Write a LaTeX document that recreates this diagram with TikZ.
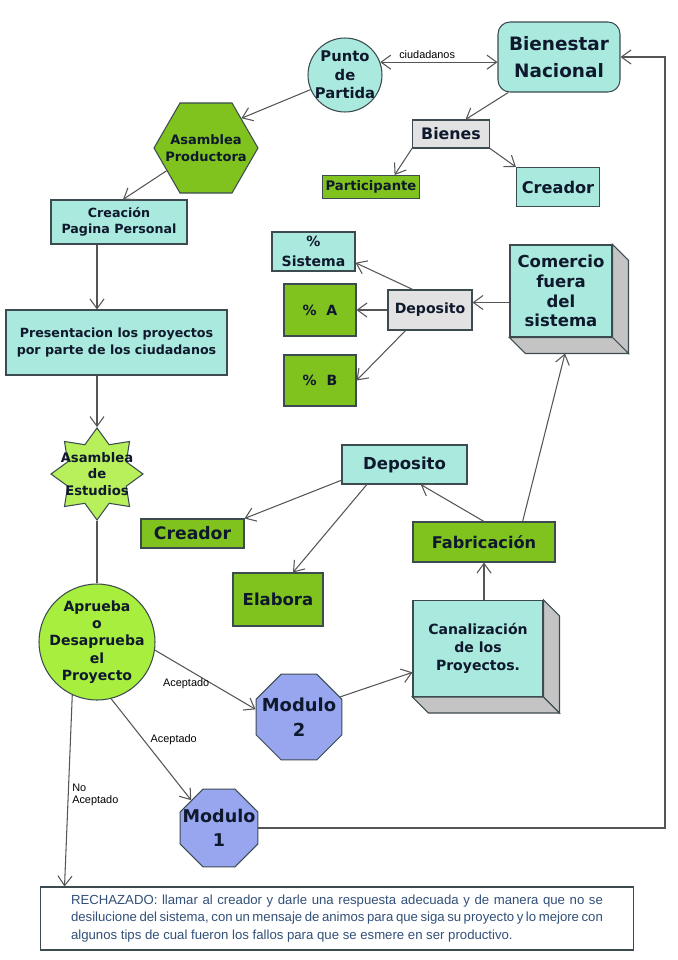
\documentclass[tikz,border=0pt]{standalone}
\usepackage{fontspec}
\setmainfont{DejaVu Sans}
\newfontfamily\lblfont{Liberation Sans}
\usepackage{tikz}
\usetikzlibrary{arrows.meta,positioning,shapes.geometric}
\usepackage{xcolor}
\definecolor{cyanfill} {RGB}{170,233,221}
\definecolor{greenfill}{RGB}{128,195, 30}
\definecolor{limefill} {RGB}{168,238, 62}
\definecolor{starfill} {RGB}{184,240, 92}
\definecolor{grayfill} {RGB}{226,226,226}
\definecolor{octafill} {RGB}{152,166,240}
\definecolor{sidefill} {RGB}{196,196,196}
\definecolor{edgecol}  {RGB}{ 60, 75, 80}
\definecolor{linecol}  {RGB}{ 85, 85, 85}
\definecolor{txtcol}   {RGB}{ 15, 25, 45}
\definecolor{rechcol}  {RGB}{ 50, 80,120}
\newcommand{\fsz}[2]{\fontsize{#1}{#2}\selectfont\bfseries}

\begin{document}
\begin{tikzpicture}[
  x=0.02cm, y=-0.02cm,
  every node/.style={font=\bfseries, text=txtcol, align=center, inner sep=1pt},
  box/.style={rectangle, draw=edgecol, line width=0.6pt},
  cyanbox/.style={box, fill=cyanfill},
  greenbox/.style={box, fill=greenfill},
  graybox/.style={box, fill=grayfill},
  octa/.style={regular polygon, regular polygon sides=8, draw=edgecol, fill=octafill, line width=0.6pt, inner sep=0pt},
  arrow/.style={-{Straight Barb[length=5.5pt, width=8pt]}, draw=linecol, line width=0.6pt},
  dblarrow/.style={{Straight Barb[length=5.5pt, width=8pt]}-{Straight Barb[length=5.5pt, width=8pt]}, draw=linecol, line width=0.6pt},
  link/.style={draw=linecol, line width=0.6pt},
  lbl/.style={font=\lblfont\fontsize{6.2}{7}\selectfont, text=black, align=left, inner sep=2pt},
  side/.style={fill=sidefill, draw=edgecol, line width=0.6pt}
]
  \useasboundingbox (0,0) rectangle (678,960);

  % Nodes, top part
  \node (punto) [circle, draw=edgecol, fill=cyanfill, line width=0.6pt, minimum size=1.48cm,
    label={[font=\fsz{8.4}{10.5}]center:{Punto\\de\\Partida}}] at (345,75) {};
  \node (bien) [cyanbox, rounded corners=0.24cm, minimum width=2.44cm, minimum height=1.4cm,
    font=\fsz{10.5}{15.5}] at (559,57) {Bienestar\\Nacional};
  \node (bienes) [graybox, minimum width=1.54cm, minimum height=0.56cm, font=\fsz{9}{11}] at (451,134) {Bienes};
  \node (part) [greenbox, minimum width=1.94cm, minimum height=0.46cm, font=\fsz{7.5}{9}] at (371,187) {Participante};
  \node (cre1) [cyanbox, minimum width=1.66cm, minimum height=0.78cm, font=\fsz{9.2}{11}] at (558,187) {Creador};
  \node (asprod) [regular polygon, regular polygon sides=6, draw=edgecol, fill=greenfill, line width=0.6pt,
    minimum size=2.08cm, inner sep=0pt,
    label={[font=\fsz{7.4}{9.6}]center:{Asamblea\\Productora}}] at (206,148) {};
  \node (creacion) [cyanbox, minimum width=2.72cm, minimum height=0.88cm, font=\fsz{7.2}{9.4}] at (119,222) {Creación\\Pagina Personal};
  \node (pres) [cyanbox, minimum width=4.42cm, minimum height=1.3cm, font=\fsz{7.2}{9.6}] at (116.5,342.5)
    {Presentacion los proyectos\\por parte de los ciudadanos};

  % Nodes, deposit branch
  \node (com) [cyanbox, minimum width=2.04cm, minimum height=1.84cm, font=\fsz{9.4}{11.3}] at (561,291)
    {Comercio\\fuera\\del\\sistema};
  \node (dep1) [graybox, minimum width=1.68cm, minimum height=0.8cm, font=\fsz{8}{10}] at (430,310) {Deposito};
  \node (sis) [cyanbox, minimum width=1.66cm, minimum height=0.78cm, font=\fsz{8}{11}] at (313.5,251.5) {\%\\Sistema};
  \node (pa) [greenbox, minimum width=1.44cm, minimum height=1.04cm, font=\fsz{8}{10}] at (320,310) {\%\ \ A};
  \node (pb) [greenbox, minimum width=1.44cm, minimum height=1.02cm, font=\fsz{8}{10}] at (320,380.5) {\%\ \ B};

  % Nodes, lower part
  \node (star) [star, star points=8, star point ratio=1.45, draw=edgecol, fill=starfill, line width=0.6pt,
    minimum size=1.84cm, inner sep=0pt,
    label={[font=\fsz{7.5}{9.6}]center:{Asamblea\\de\\Estudios}}] at (97,474) {};
  \node (aprueba) [circle, draw=edgecol, fill=limefill, line width=0.6pt, minimum size=2.32cm,
    label={[font=\fsz{8}{9.8}]center:{Aprueba\\o\\Desaprueba\\el\\Proyecto}}] at (97,642) {};
  \node (dep2) [cyanbox, minimum width=2.5cm, minimum height=0.78cm, font=\fsz{9.4}{11}] at (404.5,464.5) {Deposito};
  \node (cre2) [greenbox, minimum width=2.06cm, minimum height=0.58cm, font=\fsz{9.8}{11}] at (192.5,533.5) {Creador};
  \node (elab) [greenbox, minimum width=1.8cm, minimum height=1.06cm, font=\fsz{9.4}{11}] at (278,599.5) {Elabora};
  \node (fab) [greenbox, minimum width=2.84cm, minimum height=0.8cm, font=\fsz{9.2}{11}] at (484,542) {Fabricación};
  \node (canal) [cyanbox, minimum width=2.6cm, minimum height=1.92cm, font=\fsz{8}{10.2}] at (478,648.5)
    {Canalización\\de los\\Proyectos.};
  \node (mod2) [octa, minimum size=1.86cm,
    label={[font=\fsz{10.2}{14}]center:{Modulo\\2}}] at (299,717) {};
  \node (mod1) [octa, minimum size=1.68cm,
    label={[font=\fsz{10}{14}]center:{Modulo\\1}}] at (219,828) {};
  \node (rech) [box, draw=edgecol, fill=white, minimum width=11.88cm, minimum height=1.26cm,
    text width=10.64cm, align=justify, text=rechcol, font=\lblfont\fontsize{7.5}{9.9}\selectfont] at (337,918.5)
    {RECHAZADO: llamar al creador y darle una respuesta adecuada y de manera que no se\linebreak
     desilucione del sistema, con un mensaje de animos para que siga su proyecto y lo mejore con\linebreak
     algunos tips de cual fueron los fallos para que se esmere en ser productivo.};

  % Cube sides
  \foreach \n in {com,canal} {
    \path[side] (\n.north east) -- ([shift={(16,16)}]\n.north east)
      -- ([shift={(16,16)}]\n.south east) -- (\n.south east) -- cycle;
    \path[side] (\n.south west) -- ([shift={(16,16)}]\n.south west)
      -- ([shift={(16,16)}]\n.south east) -- (\n.south east) -- cycle;
  }

  % Paths
  \draw [dblarrow] (punto.20) -- node[lbl, pos=0.4, above] {ciudadanos} (punto.20 -| bien.west);
  \draw [arrow] (bien.215) -- (bienes.45);
  \draw [arrow] (bienes.south west) -- (part.27);
  \draw [arrow] (bienes.south east) -- (cre1.north west);
  \draw [arrow] (punto.203) -- (asprod.40);
  \draw [arrow] (asprod.210) -- (creacion.80);
  \draw [arrow] (creacion.south -| aprueba) -- (pres.north -| aprueba);
  \draw [arrow] (pres.south -| aprueba) -- (star.north);
  \draw [link] (star.south) -- (aprueba.north);

  \draw [arrow] (com.west |- dep1.10) -- (dep1.10);
  \draw [arrow] (dep1.130) -- (sis.-15);
  \draw [arrow] (dep1.west) -- (pa.east);
  \draw [arrow] (dep1.220) -- (pb.east);

  \draw [arrow] (aprueba.-8) -- node[lbl, pos=0.3, below left=4pt and -16pt] {Aceptado} (mod2.170);
  \draw [arrow] (aprueba.-76) -- node[lbl, pos=0.4, right=2pt] {Aceptado} (mod1.135);
  \draw [arrow] (aprueba.-115) -- node[lbl, pos=0.52, right] {No\\Aceptado} ([xshift=0.5cm]rech.north west);
  \draw [arrow] (mod2.26) -- (canal.200);
  \draw [arrow] (canal.north -| fab) -- (fab.south);
  \draw [arrow] (fab.north) -- (dep2.-51);
  \draw [arrow] (fab.28) -- ([shift={(4,16)}]com.south);
  \draw [arrow] (dep2.194) -- (cre2.north east);
  \draw [arrow] (dep2.208) -- (elab.61);

  \coordinate (rtn) at (665,0);
  \draw [arrow] (mod1.east) -| (rtn |- bien.east) -- (bien.east);
\end{tikzpicture}
\end{document}
